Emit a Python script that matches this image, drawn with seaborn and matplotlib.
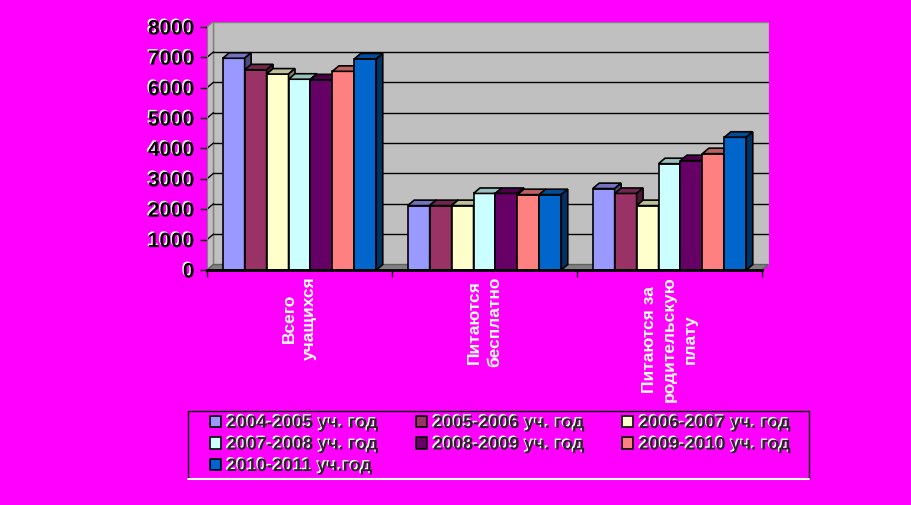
import numpy as np
import pandas as pd
import matplotlib
matplotlib.use('Agg')
import matplotlib.pyplot as plt
import matplotlib.patheffects as pe
import matplotlib.colors as mcolors
from matplotlib.patches import Polygon, Rectangle
from matplotlib.lines import Line2D
import seaborn as sns

# Данные
categories = ['Всего\nучащихся', 'Питаются\nбесплатно', 'Питаются за\nродительскую\nплату']
years = ['2004-2005 уч. год', '2005-2006 уч. год', '2006-2007 уч. год',
         '2007-2008 уч. год', '2008-2009 уч. год', '2009-2010 уч. год',
         '2010-2011 уч.год']
v2004 = [6970, 2120, 2680]
v2005 = [6590, 2120, 2520]
v2006 = [6450, 2120, 2120]
v2007 = [6280, 2520, 3500]
v2008 = [6260, 2520, 3600]
v2009 = [6540, 2480, 3830]
v2010 = [6950, 2480, 4370]
colors = ['#9999FF', '#993366', '#FFFFCC', '#CCFFFF', '#660066', '#FF8080', '#0066CC']
y_ticks = list(range(0, 8001, 1000))

sns.set_style('white')
plt.rcParams['font.family'] = ['Liberation Sans', 'DejaVu Sans']

rows = []
for year, vals in zip(years, [v2004, v2005, v2006, v2007, v2008, v2009, v2010]):
    for cat, v in zip(categories, vals):
        rows.append({'cat': cat, 'year': year, 'val': v})
df = pd.DataFrame(rows)

W, H = 911, 506
fig = plt.figure(figsize=(W / 100, H / 100), dpi=100, facecolor='#FF00FF')
ax = fig.add_axes([207 / W, 1 - 271 / H, 561.5 / W, 248.5 / H])
ax.set_facecolor('none')

# глубина 3D
dx, dy = 0.035, 180
ymax = y_ticks[-1]
x0, x1 = -0.5, len(categories) - 0.5

# стенки и пол
ax.add_patch(Rectangle((x0 + dx, dy), x1 - x0, ymax, fc='#C0C0C0', ec='#808080', lw=1, zorder=0.5))
ax.add_patch(Polygon([(x0, 0), (x0 + dx, dy), (x0 + dx, ymax + dy), (x0, ymax)],
                     fc='#C0C0C0', ec='#808080', lw=1, zorder=0.6))
ax.add_patch(Polygon([(x0, 0), (x1, 0), (x1 + dx, dy), (x0 + dx, dy)],
                     fc='#808080', ec='#606060', lw=1, zorder=0.6))
for v in y_ticks[1:-1]:
    ax.plot([x0 + dx, x1 + dx], [v + dy, v + dy], color='black', lw=1, zorder=0.7)
    ax.plot([x0, x0 + dx], [v, v + dy], color='black', lw=1, zorder=0.7)

sns.barplot(data=df, x='cat', y='val', hue='year', palette=colors, width=0.83,
            saturation=1, edgecolor='black', linewidth=1.2, legend=False, ax=ax)

# грани столбиков
for k, cont in enumerate(ax.containers):
    for p in cont.patches:
        x, w, h = p.get_x(), p.get_width(), p.get_height()
        z = 3 + k * 0.01
        p.set_zorder(z)
        base = np.array(mcolors.to_rgb(p.get_facecolor()))
        ax.add_patch(Polygon([(x, h), (x + w, h), (x + w + dx, h + dy), (x + dx, h + dy)],
                             fc=base * 0.75, ec='black', lw=1.2, zorder=z))
        ax.add_patch(Polygon([(x + w, 0), (x + w + dx, dy), (x + w + dx, h + dy), (x + w, h)],
                             fc=base * 0.5, ec='black', lw=1.2, zorder=z))

ax.set_xlim(x0, x1 + dx)
ax.set_ylim(0, ymax + dy)
ax.set_xlabel('')
ax.set_ylabel('')

shadow = [pe.withSimplePatchShadow(offset=(-1, 1), shadow_rgbFace='white', alpha=1)]

ax.set_yticks(y_ticks)
ax.set_yticklabels([str(v) for v in y_ticks], fontsize=15, fontweight='bold', color='black')
for t in ax.get_yticklabels():
    t.set_path_effects(shadow)
ax.tick_params(axis='y', left=True, length=5, width=1, color='black', pad=4)

ax.set_xticks(range(len(categories)))
ax.set_xticklabels(categories, rotation=90, va='top', ha='center', multialignment='center',
                   fontsize=12.5, fontweight='bold', color='white', linespacing=1.45)
ax.tick_params(axis='x', which='major', length=0, pad=4)
ax.set_xticks(np.arange(x0, x1 + 0.01, 1), minor=True)
ax.tick_params(axis='x', which='minor', bottom=True, length=5, width=1, color='black')

for s in ['top', 'right']:
    ax.spines[s].set_visible(False)
ax.spines['left'].set_bounds(0, ymax)
ax.spines['left'].set_color('#808080')
ax.spines['bottom'].set_bounds(x0, x1)
ax.spines['bottom'].set_color('black')
ax.spines['bottom'].set_linewidth(2)
ax.spines['bottom'].set_zorder(5)

# рамка легенды
lx0, lx1, ly0, ly1 = 188 / W, 809 / W, 1 - 480 / H, 1 - 412 / H
fig.add_artist(Line2D([lx0, lx0, lx1, lx1], [ly0, ly1, ly1, ly0], color='black', lw=1))
fig.add_artist(Line2D([lx0, lx1], [ly0, ly0], color='white', lw=1.5))

# легенда (порядок по строкам)
handles = [Rectangle((0, 0), 1, 1, fc=c, ec='black', lw=1.2) for c in colors]
order = [0, 3, 6, 1, 4, 2, 5]
leg = fig.legend([handles[i] for i in order], [years[i] for i in order], ncol=3, loc='center',
                 bbox_to_anchor=(210 / W, ly0, 581 / W, ly1 - ly0), mode='expand',
                 frameon=False, prop=dict(weight='bold', size=13),
                 handlelength=0.6, handleheight=0.6, handletextpad=0.33,
                 labelspacing=0.25, borderaxespad=0, borderpad=0)
for t in leg.get_texts():
    t.set_path_effects(shadow)

fig.savefig('out.png', dpi=100, facecolor=fig.get_facecolor())
